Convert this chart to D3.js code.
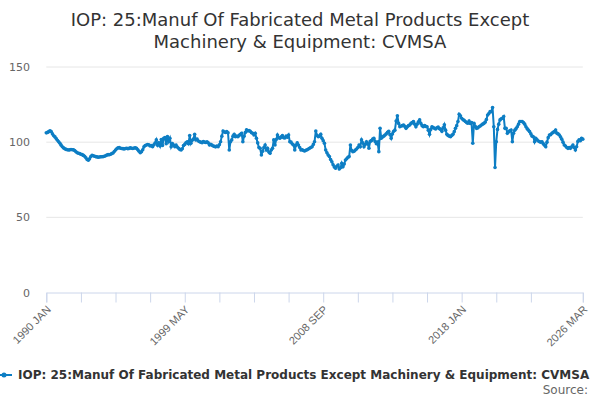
<!DOCTYPE html>
<html>
<head>
<meta charset="utf-8">
<script src="https://cdn.jsdelivr.net/npm/d3@7"></script>
<style>
  body { margin: 0; background: #fff; }
  svg { font-family: "DejaVu Sans", sans-serif; }
</style>
</head>
<body>
<div id="chart"></div>
<script>
// Series: monthly values, 1990 JAN .. 2026 MAR
const monthNames = ["JAN", "FEB", "MAR", "APR", "MAY", "JUN", "JUL", "AUG", "SEP", "OCT", "NOV", "DEC"];
const startYear = 1990;

const values = [
  106.2, 106.5, 107.0, 107.6, 107.0, 105.5, 104.3, 103.5, 102.4, 101.3, 100.2, 99.3,   // 1990
  98.0, 97.0, 96.2, 95.6, 95.2, 95.0, 94.8, 94.9, 95.1, 95.0, 94.9, 94.4,             // 1991
  93.6, 93.0, 92.6, 92.4, 92.0, 91.7, 91.2, 90.6, 89.6, 88.5, 88.0, 89.0,             // 1992
  90.5, 91.2, 91.0, 90.6, 90.4, 90.2, 90.0, 90.1, 90.3, 90.3, 90.4, 90.6,             // 1993
  91.0, 91.4, 91.7, 91.6, 92.0, 92.4, 92.8, 93.8, 94.8, 95.6, 96.2, 96.4,             // 1994
  96.0, 95.8, 95.7, 95.5, 95.8, 96.0, 95.7, 95.9, 96.2, 96.0, 95.8, 96.1,             // 1995
  96.2, 95.9, 95.0, 94.0, 93.0, 93.6, 95.0, 96.9, 97.8, 98.1, 98.4, 98.2,             // 1996
  97.5, 97.8, 97.0, 98.2, 99.4, 101.5, 98.0, 99.5, 97.5, 101.8, 97.8, 102.6,          // 1997
  103.0, 99.0, 103.7, 100.5, 102.6, 97.0, 99.0, 98.0, 97.0, 98.0, 96.8, 95.9,         // 1998
  95.2, 94.8, 95.6, 97.7, 98.5, 99.6, 100.3, 99.0, 104.4, 99.3, 101.2, 102.0,         // 1999
  105.2, 101.5, 102.0, 100.8, 100.3, 100.0, 99.6, 100.4, 100.0, 99.8, 100.2, 99.5,    // 2000
  98.1, 98.6, 98.0, 97.5, 97.2, 96.9, 97.5, 97.0, 98.3, 100.3, 104.0, 107.4,          // 2001
  106.8, 106.5, 107.0, 106.2, 94.8, 100.3, 101.5, 104.0, 105.2, 103.6, 104.0, 103.6,  // 2002
  104.5, 105.2, 105.9, 100.3, 104.0, 106.5, 108.3, 107.5, 107.8, 107.2, 106.3, 105.9, // 2003
  104.8, 105.9, 102.6, 99.5, 96.4, 95.9, 91.5, 94.0, 96.5, 98.1, 94.8, 96.0,          // 2004
  93.5, 92.6, 94.8, 95.9, 101.5, 98.1, 101.8, 104.8, 103.0, 102.6, 103.5, 104.4,      // 2005
  103.0, 102.8, 104.0, 103.3, 104.8, 100.3, 100.0, 98.8, 98.1, 94.8, 98.0, 99.5,      // 2006
  98.1, 96.5, 94.8, 95.0, 94.5, 94.1, 94.6, 95.0, 95.5, 96.0, 96.5, 97.0,             // 2007
  98.5, 100.3, 107.4, 104.5, 103.6, 104.0, 105.2, 102.6, 101.0, 99.3, 94.8, 93.0,     // 2008
  91.5, 90.4, 88.5, 87.0, 85.0, 83.5, 82.6, 84.0, 84.8, 82.2, 83.0, 86.0,             // 2009
  83.7, 85.5, 88.1, 89.0, 90.0, 90.4, 98.1, 94.5, 93.7, 94.0, 94.8, 95.5,             // 2010
  96.5, 98.1, 97.0, 101.5, 99.5, 97.0, 98.5, 100.3, 99.0, 96.0, 100.5, 101.0,         // 2011
  102.0, 102.6, 100.5, 99.0, 100.0, 93.7, 109.2, 102.6, 103.5, 104.0, 104.8, 105.5,   // 2012
  106.5, 107.2, 105.0, 102.6, 105.5, 107.2, 108.0, 114.0, 117.6, 112.5, 110.3, 110.8, // 2013
  111.0, 111.4, 110.5, 109.2, 110.2, 111.0, 111.4, 112.5, 113.0, 113.7, 112.0, 110.3, // 2014
  112.0, 113.5, 114.8, 112.5, 111.0, 110.3, 111.0, 110.5, 110.3, 108.0, 105.2, 108.5, // 2015
  110.3, 109.8, 109.2, 108.8, 109.6, 110.0, 109.0, 108.5, 107.2, 109.5, 111.6, 108.0, // 2016
  105.2, 104.5, 104.0, 103.6, 104.5, 105.2, 107.0, 109.2, 111.0, 113.7, 118.6, 117.5, // 2017
  115.9, 115.0, 114.5, 113.7, 113.0, 112.6, 114.1, 112.5, 113.0, 99.3, 112.6, 110.5,  // 2018
  109.2, 109.5, 110.3, 110.8, 111.4, 112.0, 112.5, 113.3, 115.0, 118.1, 119.0, 120.3, // 2019
  120.3, 123.0, 110.3, 83.1, 100.3, 108.5, 112.0, 114.8, 115.5, 115.9, 117.0, 109.2,  // 2020
  109.2, 105.9, 107.0, 107.5, 108.1, 100.3, 106.0, 108.0, 109.0, 110.3, 112.0, 113.7, // 2021
  113.7, 113.7, 113.0, 112.0, 110.3, 109.0, 108.0, 107.0, 105.5, 104.0, 103.6, 100.3, // 2022
  102.6, 101.5, 100.8, 100.3, 100.0, 100.3, 99.0, 98.0, 97.0, 100.0, 103.0, 104.8,    // 2023
  105.0, 105.9, 106.5, 107.0, 108.1, 106.0, 105.5, 104.8, 103.5, 102.0, 100.0, 98.1,  // 2024
  97.5, 96.5, 95.9, 96.5, 95.9, 97.0, 98.1, 96.5, 94.8, 97.0, 100.5, 101.5,           // 2025
  101.0, 102.6, 102.0                                                                  // 2026
];

// Category labels for each month
const categories = values.map(function (v, i) {
  return (startYear + Math.floor(i / 12)) + " " + monthNames[i % 12];
});

// x ticks every 28 months, labels on some of them
const xTickIndex = [0, 28, 56, 84, 112, 140, 168, 196, 224, 252, 280, 308, 336, 364, 392, 434];
const xLabelIndex = [0, 112, 224, 336, 434];
const yTicks = [0, 50, 100, 150];

const seriesName = "IOP: 25:Manuf Of Fabricated Metal Products Except Machinery & Equipment: CVMSA";
const titleLines = ["IOP: 25:Manuf Of Fabricated Metal Products Except", "Machinery & Equipment: CVMSA"];

// Setting dimensions
const width = 600,
  height = 400;
const plot = { left: 46.3, right: 582.8, top: 67, bottom: 292.5 };
const lineColor = "#0d7ec4";

const svg = d3.select("#chart")
  .append("svg")
  .attr("width", width)
  .attr("height", height);

const x = d3.scaleLinear()
  .domain([0, values.length - 1])
  .range([plot.left, plot.right]);

const y = d3.scaleLinear()
  .domain([0, 150])
  .range([plot.bottom, plot.top]);

// Title
svg.append("text")
  .attr("x", 300)
  .attr("y", 26)
  .attr("text-anchor", "middle")
  .style("font-size", "18px")
  .style("fill", "#333")
  .selectAll("tspan")
  .data(titleLines)
  .enter()
  .append("tspan")
  .attr("x", 300)
  .attr("dy", function (d, i) { return i === 0 ? 0 : 22; })
  .text(function (d) { return d; });

// Grid lines
svg.selectAll(".grid")
  .data(yTicks.filter(function (d) { return d > 0; }))
  .enter()
  .append("line")
  .attr("x1", plot.left)
  .attr("x2", plot.right)
  .attr("y1", function (d) { return y(d); })
  .attr("y2", function (d) { return y(d); })
  .attr("stroke", "#e6e6e6")
  .attr("stroke-width", 1);

// y labels
svg.selectAll(".ylabel")
  .data(yTicks)
  .enter()
  .append("text")
  .attr("x", 30)
  .attr("y", function (d) { return y(d) + 4; })
  .attr("text-anchor", "end")
  .style("font-size", "11px")
  .style("fill", "#666")
  .text(function (d) { return d; });

// x axis
const xAxis = d3.axisBottom(x)
  .tickValues(xTickIndex)
  .tickSize(10)
  .tickFormat(function (d) { return xLabelIndex.indexOf(d) >= 0 ? categories[d] : ""; });

const gx = svg.append("g")
  .attr("transform", "translate(0," + plot.bottom + ")")
  .call(xAxis);

gx.select(".domain").attr("stroke", "#ccd6eb");
gx.selectAll(".tick line").attr("stroke", "#ccd6eb");
gx.selectAll(".tick text")
  .style("font-size", "11px")
  .style("fill", "#666")
  .attr("text-anchor", "end")
  .attr("x", 0)
  .attr("y", 0)
  .attr("dy", "0.35em")
  .attr("transform", "translate(2,15) rotate(-45)");

// Line
const line = d3.line()
  .x(function (d, i) { return x(i); })
  .y(function (d) { return y(d); });

svg.append("path")
  .datum(values)
  .attr("d", line)
  .attr("fill", "none")
  .attr("stroke", lineColor)
  .attr("stroke-width", 2);

svg.selectAll(".dot")
  .data(values)
  .enter()
  .append("circle")
  .attr("cx", function (d, i) { return x(i); })
  .attr("cy", function (d) { return y(d); })
  .attr("r", 1.8)
  .attr("fill", lineColor);

// Legend
const legend = svg.append("g").attr("transform", "translate(0,375)");
legend.append("line")
  .attr("x1", -4).attr("x2", 12)
  .attr("y1", 0).attr("y2", 0)
  .attr("stroke", lineColor)
  .attr("stroke-width", 2);
legend.append("circle")
  .attr("cx", 4).attr("cy", 0).attr("r", 2.5)
  .attr("fill", lineColor);
legend.append("text")
  .attr("x", 18)
  .attr("y", 4)
  .style("font-size", "12px")
  .style("font-weight", "bold")
  .style("fill", "#333")
  .text(seriesName);

// Source
svg.append("text")
  .attr("x", 588)
  .attr("y", 394)
  .attr("text-anchor", "end")
  .style("font-size", "12px")
  .style("fill", "#666")
  .text("Source:");
</script>
</body>
</html>
